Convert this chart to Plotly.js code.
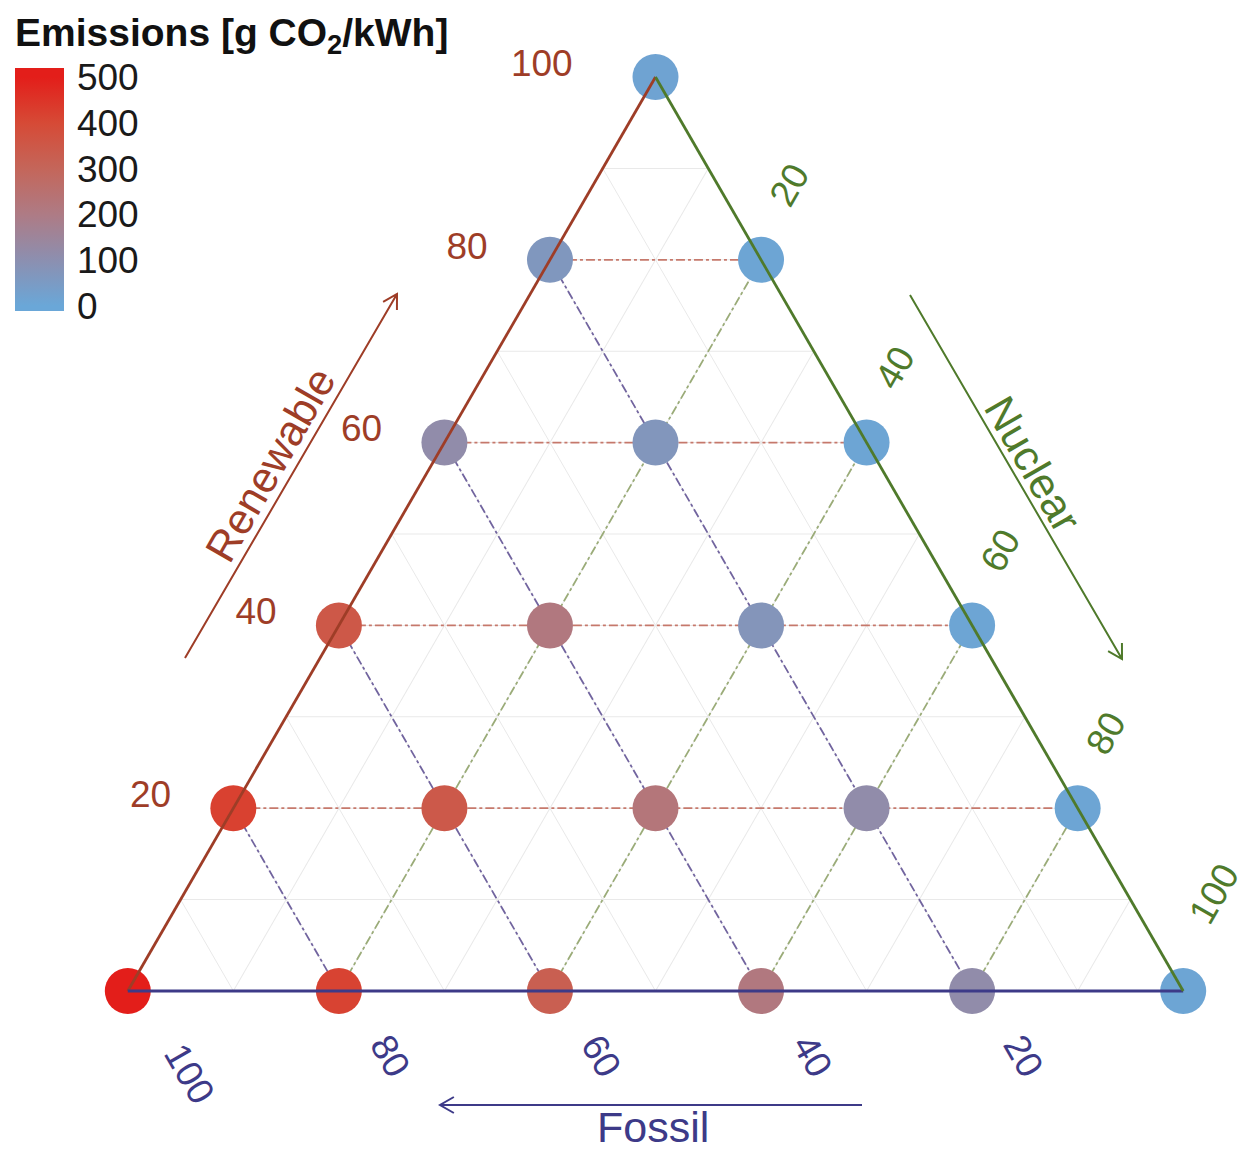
<!DOCTYPE html>
<html><head><meta charset="utf-8">
<script src="https://cdn.plot.ly/plotly-3.0.1.min.js"></script>
<style>html,body{margin:0;padding:0;background:#fff}</style>
</head><body><div id="chart" style="width:1250px;height:1152px"></div>
<script>
// ---- data ----
const renewable = [0,0,0,0,0,0, 20,20,20,20,20, 40,40,40,40, 60,60,60, 80,80, 100];
const fossil    = [100,80,60,40,20,0, 80,60,40,20,0, 60,40,20,0, 40,20,0, 20,0, 0];
const nuclear   = [0,20,40,60,80,100, 0,20,40,60,80, 0,20,40,60, 0,20,40, 0,20, 0];
const emissions = [500,415,325,215,115,10, 420,345,225,115,10, 350,215,75,10, 115,70,10, 65,10, 15];
const levels = [20,40,60,80];
const tickVals = [0,10,20,30,40,50,60,70,80,90,100];
const tickLabels = ['','','20','','40','','60','','80','','100'];
const colorbarTicks = [0,100,200,300,400,500];
const colorbarColors = ['#6aa7d8','#8c8fb0','#ae7b85','#c4665a','#d64a36','#e31e1a'];

// ---- styles ----
const RC = '#9e3d27', NC = '#4f7a2b', FC = '#3d3a88';
const W = 1250, H = 1152;
const FONT = 'Liberation Sans, Arial, sans-serif';
const SP = '\u00a0';
const rep = n => SP.repeat(n);
const CMIN = -11, CMAX = 520;
const colorscale = [[0, colorbarColors[0]]]
  .concat(colorbarTicks.map((v, i) => [(v - CMIN) / (CMAX - CMIN), colorbarColors[i]]))
  .concat([[1, colorbarColors[colorbarColors.length - 1]]]);

function chord(key, level, sortKey, color) {
  const idx = [];
  for (let i = 0; i < renewable.length; i++) if (key[i] === level) idx.push(i);
  idx.sort((p, q) => sortKey[p] - sortKey[q]);
  return {
    type: 'scatterternary', mode: 'lines', hoverinfo: 'skip', showlegend: false,
    a: idx.map(i => renewable[i]), b: idx.map(i => fossil[i]), c: idx.map(i => nuclear[i]),
    line: {color: color, width: 1.8, dash: 'dashdot'}, cliponaxis: false
  };
}
const traces = [];
levels.forEach(L => {
  traces.push(chord(renewable, L, nuclear, 'rgba(190,100,85,0.85)'));
  traces.push(chord(fossil, L, nuclear, 'rgba(100,85,150,0.9)'));
  traces.push(chord(nuclear, L, renewable, 'rgba(140,160,100,0.85)'));
});
traces.push({
  type: 'scatterternary', mode: 'markers', showlegend: false, cliponaxis: false,
  a: renewable, b: fossil, c: nuclear,
  marker: {
    size: 46, color: emissions, cmin: CMIN, cmax: CMAX, colorscale: colorscale,
    line: {width: 0},
    colorbar: {
      x: 15/W, xanchor: 'left', y: 1 - 14/H, yanchor: 'top',
      len: 297, lenmode: 'pixels', thickness: 49, thicknessmode: 'pixels',
      xpad: 0, ypad: 0, outlinewidth: 0,
      tickmode: 'array', tickvals: colorbarTicks,
      ticks: 'outside', ticklen: 6, tickcolor: 'rgba(255,255,255,0)',
      tickfont: {family: FONT, size: 37, color: '#1a1a1a'},
      title: {text: 'Emissions [g CO<sub>2</sub>/kWh]', side: 'top',
              font: {family: FONT, size: 39, color: '#111', weight: 'bold'}}
    }
  }
});

function axis(color, angle, text, len) {
  return {
    tickmode: 'array', tickvals: tickVals, ticktext: text, tickangle: angle,
    ticks: 'outside', ticklen: len, tickwidth: 1, tickcolor: 'rgba(0,0,0,0)',
    showline: true, linecolor: color, linewidth: 2.8,
    showgrid: true, gridcolor: '#e9e9e9', gridwidth: 1,
    tickfont: {family: FONT, size: 37, color: color}, title: {text: ''}, min: 0
  };
}
const lift = (t, px) => '<span style="baseline-shift:' + px + 'px">' + t + '</span>';
const aText = tickLabels.map(t => t === '' ? '' : lift(t + rep(t === '100' ? 4 : 2), 10));
const bText = tickLabels.map(t => t === '' ? '' : rep(t === '100' ? 4 : 3) + lift(t, 32));
const cText = tickLabels.map(t => t === '' ? '' : rep(t === '100' ? 5 : 4) + lift(t, t === '100' ? 28 : 19));

const px = x => x / W, py = y => 1 - y / H;
function arrow(x0, y0, x1, y1, color) {
  const dx = x1 - x0, dy = y1 - y0, len = Math.hypot(dx, dy);
  const ux = dx / len, uy = dy / len, s = 16, ca = Math.cos(Math.PI/6), sa = Math.sin(Math.PI/6);
  const h1x = x1 - s*(ux*ca - uy*sa), h1y = y1 - s*(uy*ca + ux*sa);
  const h2x = x1 - s*(ux*ca + uy*sa), h2y = y1 - s*(uy*ca - ux*sa);
  return {type: 'path', xref: 'paper', yref: 'paper', line: {color: color, width: 2},
    path: `M${px(x0)},${py(y0)}L${px(x1)},${py(y1)}M${px(h1x)},${py(h1y)}L${px(x1)},${py(y1)}L${px(h2x)},${py(h2y)}`};
}

const layout = {
  width: W, height: H, margin: {l: 0, r: 0, t: 0, b: 0, autoexpand: false},
  paper_bgcolor: 'white', font: {family: FONT},
  ternary: {
    sum: 100, bgcolor: 'white',
    domain: {x: [0.0924, 0.9564], y: [0.13976, 0.93316]},
    aaxis: axis(RC, 0, aText, 36), baxis: axis(FC, 60, bText, 6), caxis: axis(NC, -60, cText, 6)
  },
  shapes: [
    arrow(185, 658, 397, 294, RC),
    arrow(910, 295, 1122, 659, NC),
    arrow(862, 1105, 440, 1105, FC)
  ],
  annotations: [
    {text: 'Renewable', xref: 'paper', yref: 'paper', x: px(270), y: py(465), xanchor: 'center', yanchor: 'middle',
     showarrow: false, textangle: -60, font: {family: FONT, size: 43, color: RC}},
    {text: 'Nuclear', xref: 'paper', yref: 'paper', x: px(1033), y: py(464), xanchor: 'center', yanchor: 'middle',
     showarrow: false, textangle: 60, font: {family: FONT, size: 43, color: NC}},
    {text: 'Fossil', xref: 'paper', yref: 'paper', x: px(653), y: py(1127), xanchor: 'center', yanchor: 'middle',
     showarrow: false, font: {family: FONT, size: 43, color: FC}}
  ]
};
Plotly.newPlot('chart', traces, layout, {displayModeBar: false, staticPlot: true});
</script></body></html>
